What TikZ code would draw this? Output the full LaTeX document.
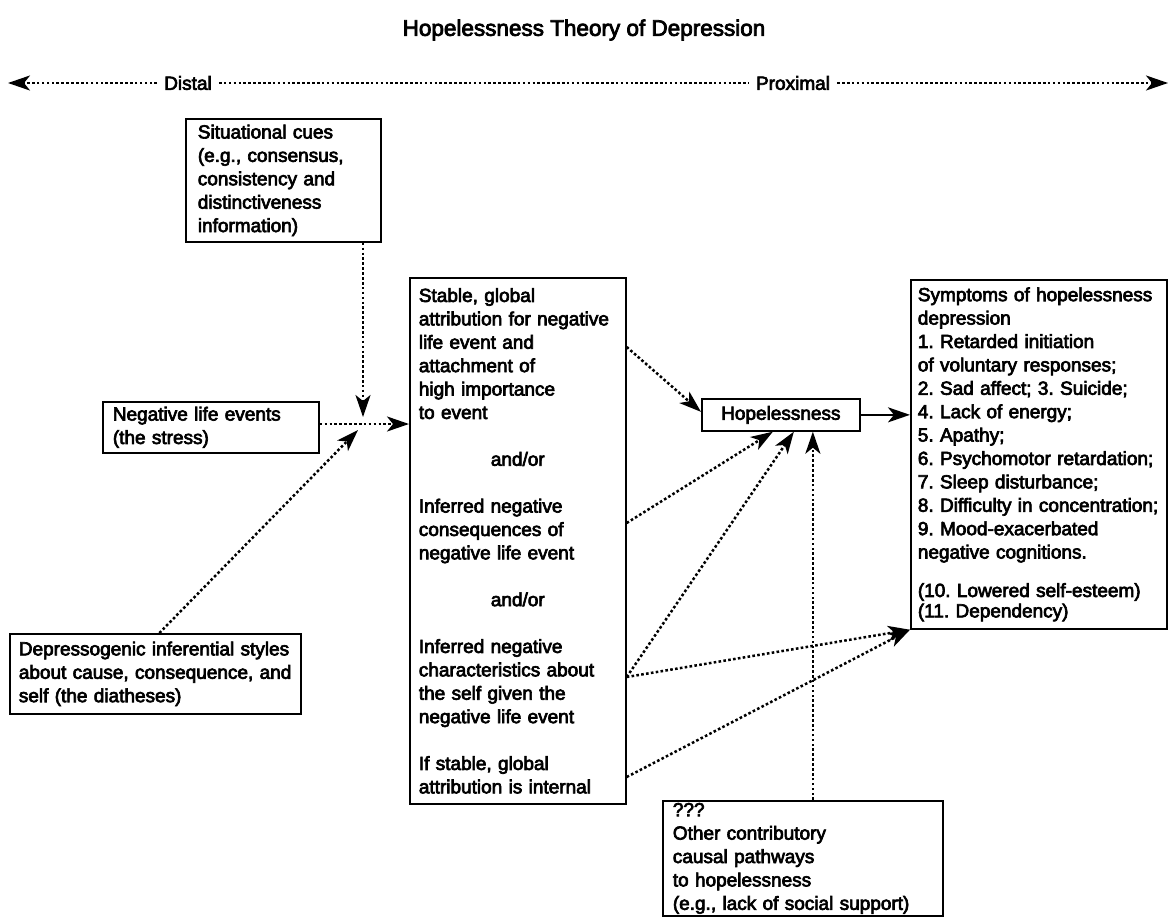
\documentclass[tikz,border=0pt]{standalone}
\usepackage{fontspec}
\setmainfont{Liberation Sans}[FakeBold=3.5]
\usetikzlibrary{arrows.meta}
\frenchspacing
\begin{document}
\begin{tikzpicture}[x=1pt,y=-1pt,
  every node/.style={font=\frenchspacing\fontsize{19}{23.4}\selectfont},
  box/.style={draw, line width=1.7pt, anchor=north west, align=left, inner ysep=0pt},
  lbl/.style={inner xsep=7pt, inner ysep=0pt},
  dotline/.style={line width=2.5pt, dash pattern=on 2.6pt off 2.3pt},
  tip/.style={-{Stealth[length=22pt,width=15pt,inset=6pt]}},
  solidarrow/.style={line width=2.4pt, -{Stealth[length=22pt,width=15pt,inset=6pt]}}
]
\useasboundingbox (0,0) rectangle (1169,918);

% title and axis
\node[font=\fontsize{22.5}{27}\selectfont] (title) at (584,30) {Hopelessness Theory of Depression};
\node[lbl] (distal) at (188,83) {Distal};
\node[lbl] (prox) at (793,83) {Proximal};
\coordinate (axL) at (8,83);
\coordinate (axR) at (1168,83);
\draw[dotline,tip] (distal.west) -- (axL);
\draw[dotline] (distal.east) -- (prox.west);
\draw[dotline,tip] (prox.east) -- (axR);

% boxes
\node[box, minimum width=195pt, minimum height=123pt, text width=171pt, inner xsep=12pt] (cues) at (185,118)
  {Situational cues\\(e.g., consensus,\\consistency and\\distinctiveness\\information)};

\node[box, minimum width=216pt, minimum height=51pt, text width=196pt, inner xsep=10pt] (nle) at (102,401)
  {Negative life events\\(the stress)};

\node[box, minimum width=291pt, minimum height=80pt, text width=273pt, inner xsep=9pt] (dep) at (9,633)
  {Depressogenic inferential styles\\about cause, consequence, and\\self (the diatheses)};

\node[box, minimum width=216pt, minimum height=526pt, text width=198pt, inner xsep=9pt] (mid) at (409,277)
  {Stable, global\\
   attribution for negative\\
   life event and\\
   attachment of\\
   high importance\\
   to event\\[23.4pt]
   \hspace*{72pt}and/or\\[23.4pt]
   Inferred negative\\
   consequences of\\
   negative life event\\[23.4pt]
   \hspace*{72pt}and/or\\[23.4pt]
   Inferred negative\\
   characteristics about\\
   the self given the\\
   negative life event\\[23.4pt]
   If stable, global\\
   attribution is internal};

\node[draw, line width=1.7pt, anchor=north west, minimum width=158pt, minimum height=32pt, inner sep=0pt] (hope) at (701,398) {Hopelessness};

\node[box, minimum width=256pt, minimum height=349pt, text width=242pt, inner xsep=7pt] (sym) at (910,279)
  {Symptoms of hopelessness\\
   depression\\
   1. Retarded initiation\\
   of voluntary responses;\\
   2. Sad affect; 3. Suicide;\\
   4. Lack of energy;\\
   5. Apathy;\\
   6. Psychomotor retardation;\\
   7. Sleep disturbance;\\
   8. Difficulty in concentration;\\
   9. Mood-exacerbated\\
   negative cognitions.\\[15pt]
   (10. Lowered self-esteem)\\[-3pt]
   (11. Dependency)};

\node[box, minimum width=280pt, minimum height=115pt, text width=260pt, inner xsep=10pt] (other) at (662,800)
  {???\\Other contributory\\causal pathways\\to hopelessness\\(e.g., lack of social support)};

% junction
\coordinate (J) at (363,424);
\coordinate (Jt) at (363,417);
\coordinate (Jd) at (358,430);
\coordinate (X) at ([xshift=32pt]hope.south);

\draw[dotline,tip] (cues.south -| J) -- (Jt);
\draw[dotline,tip] (nle.east |- J) -- (mid.west |- J);
\draw[dotline,tip] ([xshift=4pt]dep.north) -- (Jd);

\draw[dotline,tip] ([yshift=-70pt]mid.north east) -- ([yshift=3pt]hope.west);
\draw[dotline,tip] ([yshift=-246pt]mid.north east) -- ([xshift=-8pt]hope.south);
\draw[dotline,tip] ([yshift=-400pt]mid.north east) -- ([xshift=13pt]hope.south);
\draw[dotline,tip] ([yshift=-400pt]mid.north east) -- (sym.south west);
\draw[dotline,tip] ([yshift=-500pt]mid.north east) -- (sym.south west);
\draw[dotline,tip] (X |- other.north) -- (X);

\draw[solidarrow] (hope.east) -- (hope.east -| sym.west);
\end{tikzpicture}
\end{document}
